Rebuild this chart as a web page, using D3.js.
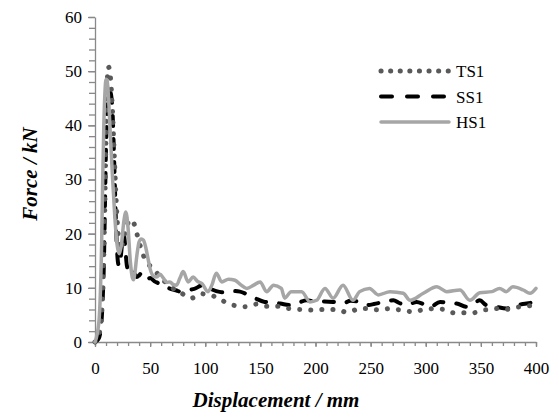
<!DOCTYPE html>
<html>
<head>
<meta charset="utf-8">
<script src="https://cdn.jsdelivr.net/npm/d3@7"></script>
<style>
  body { margin: 0; background: #fff; }
</style>
</head>
<body>
<svg id="chart" width="559" height="419"></svg>
<script>
// displacement (mm), force (kN)
const ts1 = [[0,0],[3,1],[5,3],[7,9],[8,16],[9,26],[10,38],[11,47],[12,50.8],[13,50.5],[14,49],[15,46],[16,42],[17,37],[18,32],[19,27],[20,23],[21,20],[22,18],[23,17],[24,17.5],[26,19],[28,21],[30,22],[32,22.6],[34,22.5],[36,21.5],[38,20],[40,18.5],[42,17],[45,15.5],[48,14.5],[51,13.8],[55,13],[59,12],[63,11.2],[68,10.5],[73,9.5],[78.6,9],[83,8.4],[87.7,8.1],[92,8.5],[96.8,8.9],[102,8.7],[107,8.5],[112,8.1],[116,7.6],[121,7.1],[125.5,6.8],[131,6.6],[136,6.5],[141,6.8],[146.7,7],[151,6.8],[155.7,6.6],[161,6.6],[166,6.6],[171,6.4],[175,6.2],[181,6.1],[186,6],[191,6],[196.6,5.9],[202,6],[207,6],[212,6],[217.7,6],[223,5.8],[228,5.5],[233,5.7],[237,6],[243,6.2],[248,6.2],[253,6],[258.5,5.9],[264,6.1],[269,6.2],[274,6],[278,5.9],[283,5.7],[288.7,5.6],[294,5.8],[299,6],[304,6.1],[308,6.2],[313,6.1],[317,6],[321,5.7],[325,5.4],[334,5.4],[343,5.4],[348,5.6],[352,5.9],[358,6],[363,6.2],[372,6],[381,6.4],[391.5,6.6],[400,6.9]];

const ss1 = [[0,0],[3,0.5],[5,2],[7,8],[8,14],[9,25],[10,36],[11,42],[12,45],[13,46],[14,46],[15,45],[16,42],[17,36],[18,29],[19,22],[20,17],[21,14.5],[22,14],[23,15],[24,17],[25,19],[26,20],[27,18.5],[28,16],[29,14],[30,13.5],[32,14],[34,13.5],[36,12.5],[38,12],[40,12.3],[42,12.7],[44,12.5],[47,11.5],[50,11.8],[54,11.2],[58,10.8],[62,10.2],[66,10],[70,9.7],[74,9.5],[77,9.3],[80,9.4],[84.6,9.6],[90,9.8],[98,10.5],[104,9.9],[110,9.4],[115,9.2],[121,9.3],[126,9.4],[131.5,9.3],[138,8.8],[145,8.1],[154,7.4],[161,7.3],[168,7.1],[177,6.8],[184,7.2],[192,7.7],[201,7.4],[208,7.5],[216,7.4],[224,7.1],[232,7.6],[240,7.4],[246,6.8],[253,7],[261.5,7.4],[270.6,7.7],[276,7.2],[282.7,6.8],[291.7,7.4],[298,7],[304,6.5],[313,7.4],[320,7.2],[328,7.1],[337,6.5],[343,7],[349,7.7],[355,6.8],[364,6.5],[373,6.2],[382,6.8],[391.5,7.1],[400,7.4]];

const hs1 = [[0,0],[2,1.5],[4,5],[6,18],[7,30],[8,40],[9,46],[10,48.5],[11,48.3],[12,46],[14,38],[16,30],[18,23],[20,18],[22,16.3],[24,18],[26,22],[28,24],[30,21],[32,15],[34,11.8],[35,11.5],[36,12.5],[38,16],[40,18.5],[42,19],[44,18.8],[46,17.5],[48,15.5],[50,13.5],[53,12.2],[56,12],[59,12.5],[62,11.8],[65,11],[68,11.1],[71,10.6],[74,10.5],[77,11.8],[80,13],[84.5,11.1],[89,12],[93,11.2],[97,10.8],[102.5,9.3],[106,10.5],[110,12.7],[115,11.1],[121,11.6],[127,11.4],[132,10.6],[137.6,9.9],[144,10.5],[149.7,11.1],[155.7,9.3],[162,10.5],[169,9.9],[172,8.1],[178,9.3],[187.5,9.3],[195,7.4],[201,7.7],[208.6,9.9],[216,8.1],[225,10.5],[234,7.7],[240,9.3],[249,9.9],[257,8.7],[267.6,9.3],[279.6,9],[285.7,7.7],[297.8,9],[310,10.2],[319,9.3],[331,9.6],[340,7.7],[349,9.1],[360,9.3],[367,9.9],[373,9.3],[379,10.2],[388.5,9.6],[394.6,9],[400,9.9]];

const seriesNames = ["TS1", "SS1", "HS1"];
const xTicks = [0, 50, 100, 150, 200, 250, 300, 350, 400];
const yTicks = [0, 10, 20, 30, 40, 50, 60];

const FONT = "'Liberation Serif', 'Times New Roman', serif";
const svg = d3.select("#chart");
const axisColor = "#898989";

const x = d3.scaleLinear().domain([0, 400]).range([95, 536]);
const y = d3.scaleLinear().domain([0, 60]).range([342, 17]);

// minor ticks
svg.append("g")
  .attr("transform", "translate(0,342)")
  .call(d3.axisBottom(x).tickValues(d3.range(0, 401, 10)).tickSize(4).tickFormat(""))
  .call(g => g.select(".domain").remove());
svg.append("g")
  .attr("transform", "translate(95,0)")
  .call(d3.axisLeft(y).tickValues(d3.range(0, 61, 2)).tickSize(6).tickFormat(""))
  .call(g => g.select(".domain").remove());

// major axes
svg.append("g")
  .attr("transform", "translate(0,342)")
  .call(d3.axisBottom(x).tickValues(xTicks).tickSize(5).tickSizeOuter(0).tickPadding(15));
svg.append("g")
  .attr("transform", "translate(95,0)")
  .call(d3.axisLeft(y).tickValues(yTicks).tickSize(7).tickSizeOuter(0).tickPadding(6));

svg.selectAll("g").attr("font-family", null);
svg.selectAll(".tick line, .domain").attr("stroke", axisColor).attr("stroke-width", 1.3);
svg.selectAll(".tick text").attr("font-size", 17).attr("fill", "#000")
  .style("font-family", FONT);

const line = d3.line()
  .x(d => x(d[0]))
  .y(d => y(d[1]))
  .curve(d3.curveMonotoneX);

const styles = {
  TS1: { stroke: "#595959", width: 5, dash: "0.1,11", cap: "round" },
  SS1: { stroke: "#000", width: 4, dash: "10,13", cap: "round" },
  HS1: { stroke: "#a6a6a6", width: 3.5, dash: null, cap: "round" }
};
const dataBy = { TS1: ts1, SS1: ss1, HS1: hs1 };

["SS1", "TS1", "HS1"].forEach(name => {
  const s = styles[name];
  svg.append("path")
    .datum(dataBy[name])
    .attr("d", line)
    .attr("fill", "none")
    .attr("stroke", s.stroke)
    .attr("stroke-width", s.width)
    .attr("stroke-linecap", s.cap)
    .attr("stroke-linejoin", "round")
    .attr("stroke-dasharray", s.dash);
});

// legend
const legend = svg.append("g");
seriesNames.forEach((name, i) => {
  const s = styles[name];
  const ly = 71 + i * 25.5;
  legend.append("line")
    .attr("x1", 381).attr("x2", 449)
    .attr("y1", ly).attr("y2", ly)
    .attr("stroke", s.stroke)
    .attr("stroke-width", s.width)
    .attr("stroke-linecap", s.cap)
    .attr("stroke-dasharray", name === "TS1" ? "0.1,9.5" : name === "SS1" ? "11,15" : null);
  legend.append("text")
    .attr("x", 456).attr("y", ly + 6)
    .style("font-family", FONT)
    .attr("font-size", 17)
    .text(name);
});

// axis titles
svg.append("text")
  .attr("x", 276).attr("y", 407)
  .attr("text-anchor", "middle")
  .style("font-family", FONT)
  .attr("font-size", 21)
  .attr("font-weight", "bold")
  .attr("font-style", "italic")
  .text("Displacement / mm");

svg.append("text")
  .attr("transform", "translate(37,174) rotate(-90)")
  .attr("text-anchor", "middle")
  .style("font-family", FONT)
  .attr("font-size", 21)
  .attr("font-weight", "bold")
  .attr("font-style", "italic")
  .text("Force / kN");
</script>
</body>
</html>
